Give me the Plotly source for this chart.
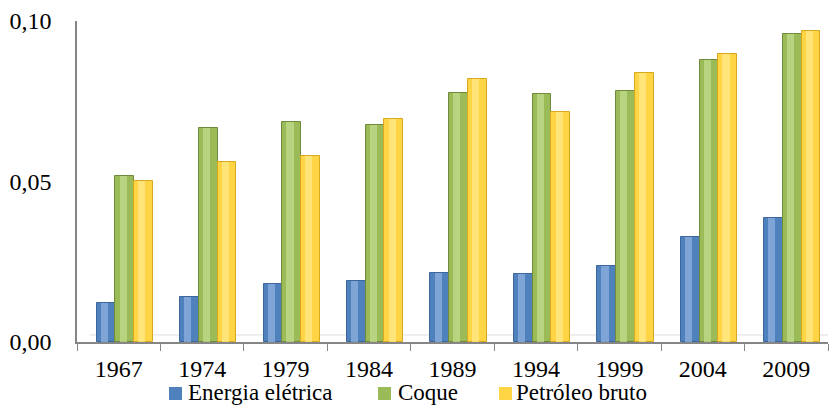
import plotly.graph_objects as go

# Dados por ano
anos = ["1967", "1974", "1979", "1984", "1989", "1994", "1999", "2004", "2009"]
energia_eletrica = [0.0120, 0.0141, 0.0181, 0.0189, 0.0214, 0.0211, 0.0238, 0.0327, 0.0387]
coque = [0.0517, 0.0667, 0.0686, 0.0677, 0.0777, 0.0773, 0.0783, 0.0877, 0.0961]
petroleo_bruto = [0.0502, 0.0561, 0.0580, 0.0695, 0.0820, 0.0717, 0.0839, 0.0898, 0.0970]

y_ticks = [0.0, 0.05, 0.10]
y_ticktext = ["0,00", "0,05", "0,10"]

FONT = "Liberation Serif"

# (nome, valores, cor da borda, cor principal, cor do brilho, deslocamento)
series = [
    ("Energia elétrica", energia_eletrica, "#3d679c", "#4f81bd", "#8fb1e0", -0.265),
    ("Coque", coque, "#6f8a3a", "#9bbb59", "#c3dc8e", -0.04),
    ("Petróleo bruto", petroleo_bruto, "#d9a81e", "#ffd545", "#ffe98a", 0.185),
]
W = 0.225

# legenda (coordenadas do papel): início do quadrado e do texto de cada item
legenda_quad_x = [0.1225, 0.4008, 0.5619]
legenda_texto_x = [0.1465, 0.4261, 0.5832]
QUAD = 0.0173
LEG_Y0, LEG_Y1 = -0.1807, -0.1402
LEG_TXT_Y = -0.158

fig = go.Figure()
for nome, vals, borda, cor, brilho, off in series:
    # corpo do cilindro
    fig.add_trace(go.Bar(
        x=anos, y=vals, name=nome, offset=off, width=W,
        marker=dict(color=cor, line=dict(color=borda, width=1)),
    ))
    # faixa central mais clara para dar volume
    fig.add_trace(go.Bar(
        x=anos, y=vals, name=nome, offset=off + W * 0.22, width=W * 0.38,
        marker=dict(color=brilho, line=dict(width=0), opacity=0.75),
        hoverinfo="skip",
    ))

# linha do piso
fig.add_shape(type="line", xref="paper", yref="paper",
              x0=0.017, x1=1, y0=0.022, y1=0.022,
              line=dict(color="#dedede", width=1), layer="below")

# legenda desenhada abaixo do eixo
for (nome, _, _, cor, _, _), qx, tx in zip(series, legenda_quad_x, legenda_texto_x):
    fig.add_shape(type="rect", xref="paper", yref="paper",
                  x0=qx, x1=qx + QUAD, y0=LEG_Y0, y1=LEG_Y1,
                  fillcolor=cor, line=dict(width=0))
    fig.add_annotation(text=nome, xref="paper", yref="paper",
                       x=tx, y=LEG_TXT_Y, borderpad=0,
                       xanchor="left", yanchor="middle", showarrow=False,
                       font=dict(family=FONT, size=23, color="black"))

fig.update_layout(
    width=830, height=407,
    margin=dict(l=77, r=2, t=21, b=65),
    barmode="overlay",
    plot_bgcolor="white", paper_bgcolor="white",
    font=dict(family=FONT, size=24, color="black"),
    showlegend=False,
    bargap=0,
)
fig.update_xaxes(
    type="category",
    showline=True, linecolor="#868686", linewidth=1.5,
    ticks="outside", tickson="boundaries", ticklen=7, tickcolor="#868686",
    showgrid=False, zeroline=False,
    ticklabelstandoff=4,
    tickfont=dict(family=FONT, size=24),
)
fig.update_yaxes(
    range=[0, 0.10],
    tickvals=y_ticks, ticktext=y_ticktext,
    showline=True, linecolor="#868686", linewidth=1.5,
    ticks="", showgrid=False, zeroline=False,
    ticklabelstandoff=19,
    tickfont=dict(family=FONT, size=24),
)

fig.write_html("out.html")
